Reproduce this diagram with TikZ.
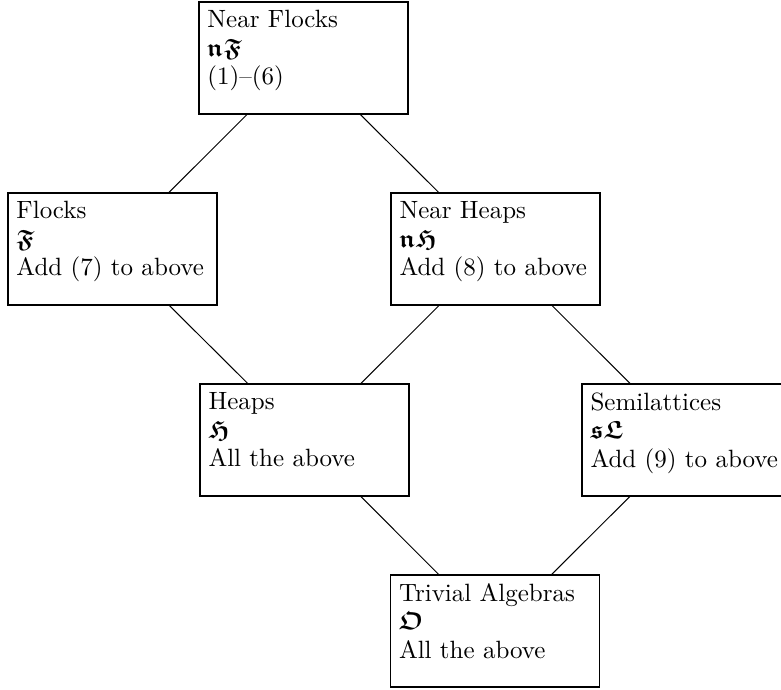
\documentclass[tikz,border=0pt]{standalone}
\usepackage{amssymb}
\DeclareMathAlphabet{\mathbfrak}{U}{euf}{b}{n}
\newcommand{\boxtext}[3]{\parbox[c][44.8pt][t]{76.8pt}{\baselineskip=11.4pt\vspace*{3.4pt}#1\\$\mathbfrak{#2}$\\#3}}
\tikzset{
  varbox/.style={draw, line width=0.45pt, inner xsep=3.4pt, inner ysep=0pt, minimum width=83.6pt, minimum height=44.8pt, anchor=center},
  link/.style={line width=0.4pt}
}
\begin{document}
\begin{tikzpicture}[x=0.4pt,y=-0.4pt]
\useasboundingbox (0,0) rectangle (781,690);
\clip (0,0) rectangle (781,690);
\node[varbox] (nf) at (303.5,58) {\boxtext{Near Flocks}{nF}{(1)--(6)}};
\node[varbox] (f) at (112.5,249) {\boxtext{Flocks}{F}{Add (7) to above}};
\node[varbox] (nh) at (495.5,249) {\boxtext{Near Heaps}{nH}{Add (8) to above}};
\node[varbox] (h) at (304.5,440) {\boxtext{Heaps}{H}{All the above}};
\node[varbox] (s) at (686.5,440) {\boxtext{Semilattices}{sL}{Add (9) to above}};
\node[varbox] (t) at (495,631) {\boxtext{Trivial Algebras}{O}{All the above}};
\draw[link] (nf) -- (f);
\draw[link] (nf) -- (nh);
\draw[link] (f) -- (h);
\draw[link] (nh) -- (h);
\draw[link] (nh) -- (s);
\draw[link] (h) -- (t);
\draw[link] (s) -- (t);
\end{tikzpicture}
\end{document}
